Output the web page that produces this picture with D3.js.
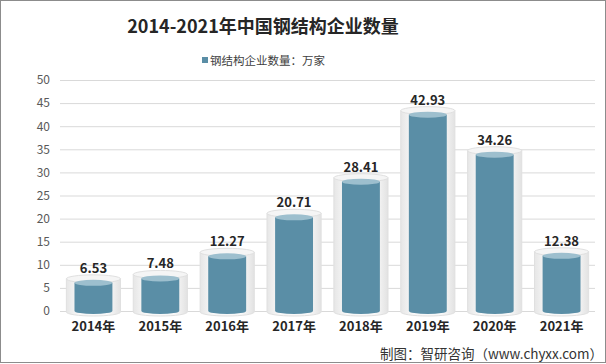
<!DOCTYPE html>
<html><head><meta charset="utf-8">
<script src="https://cdn.jsdelivr.net/npm/d3@7"></script>
<style>body{margin:0;background:#fff}svg{display:block}</style>
</head><body>
<script>
const categories = ["2014年","2015年","2016年","2017年","2018年","2019年","2020年","2021年"];
const values = [6.53, 7.48, 12.27, 20.71, 28.41, 42.93, 34.26, 12.38];
const yTicks = [0,5,10,15,20,25,30,35,40,45,50];
const title = "2014-2021年中国钢结构企业数量";
const legendLabel = "钢结构企业数量：万家";
const source = "制图：智研咨询（www.chyxx.com）";

const W = 606, H = 364;
const font = "'Noto Sans CJK SC','Noto Sans',sans-serif";
const svg = d3.select("body").append("svg").attr("width", W).attr("height", H);

const defs = svg.append("defs");
const g1 = defs.append("linearGradient").attr("id","glass").attr("x1","0").attr("x2","1").attr("y1","0").attr("y2","0");
g1.append("stop").attr("offset","0").attr("stop-color","#e6e6e6");
g1.append("stop").attr("offset","0.22").attr("stop-color","#f8f8f8");
g1.append("stop").attr("offset","0.78").attr("stop-color","#f8f8f8");
g1.append("stop").attr("offset","1").attr("stop-color","#e2e2e2");

svg.append("rect").attr("x",0.5).attr("y",0.5).attr("width",W-1).attr("height",H-2)
  .attr("fill","#fff").attr("stroke","#8c8c8c");

const x = d3.scaleBand().domain(categories).range([60, 595]).paddingInner(0.19).paddingOuter(0.095);
const y = d3.scaleLinear().domain([0, 50]).range([311, 80]);

// grid
svg.append("g").selectAll("line").data(yTicks).join("line")
  .attr("x1", 60).attr("x2", 595).attr("y1", d => y(d)+0.5).attr("y2", d => y(d)+0.5)
  .attr("stroke", "#d9d9d9");

// y axis
const yAxis = d3.axisLeft(y).tickValues(yTicks).tickSize(0).tickPadding(10);
const ya = svg.append("g").attr("transform","translate(60,0)").call(yAxis);
ya.select(".domain").remove();
ya.selectAll("text").attr("font-family", font).attr("font-size", 12).attr("fill", "#595959");

// x axis
const xAxis = d3.axisBottom(x).tickSize(0).tickPadding(11);
const xa = svg.append("g").attr("transform","translate(0,311)").call(xAxis);
xa.select(".domain").remove();
xa.selectAll("text").attr("font-family", font).attr("font-size", 13).attr("font-weight","bold").attr("fill","#262626");

const ry = 4;
const bars = svg.append("g").selectAll("g").data(categories).join("g");
// outer glass cylinder
bars.append("path").attr("d", (c,i) => {
  const bx = x(c), bw = x.bandwidth(), t = y(values[i]) - 2, b = y(0) + 1, rx = bw/2;
  return `M${bx},${t} L${bx},${b} A${rx},${ry} 0 0 0 ${bx+bw},${b} L${bx+bw},${t} Z`;
}).attr("fill","url(#glass)").attr("stroke","#e0e0e0");
bars.append("ellipse").attr("cx", c => x(c)+x.bandwidth()/2).attr("cy",(c,i)=>y(values[i])-2)
  .attr("rx", x.bandwidth()/2).attr("ry", ry).attr("fill","#f5f5f5").attr("stroke","#e0e0e0");
// inner bar
const iw = x.bandwidth()*0.7;
bars.append("path").attr("d", (c,i) => {
  const bx = x(c)+(x.bandwidth()-iw)/2, t = y(values[i]) + 2, b = y(0), rx = iw/2;
  return `M${bx},${t} L${bx},${b} A${rx},${ry-1} 0 0 0 ${bx+iw},${b} L${bx+iw},${t} Z`;
}).attr("fill","#5a8ea6");
bars.append("ellipse").attr("cx", c => x(c)+x.bandwidth()/2).attr("cy",(c,i)=>y(values[i])+2)
  .attr("rx", iw/2).attr("ry", ry-1).attr("fill","#9dbfce");

// value labels
bars.append("text").attr("x", c => x(c)+x.bandwidth()/2).attr("y",(c,i)=>y(values[i])-8)
  .attr("text-anchor","middle").attr("font-family",font).attr("font-size",13).attr("font-weight","bold")
  .attr("fill","#262626").text((c,i)=>values[i].toFixed(2));

// title
svg.append("text").attr("x", 263).attr("y", 33).attr("text-anchor","middle")
  .attr("font-family",font).attr("font-size",18).attr("font-weight","bold").attr("fill","#262626").text(title);

// legend
svg.append("rect").attr("x",202).attr("y",57).attr("width",6).attr("height",6).attr("fill","#5a8ea6");
svg.append("text").attr("x",210).attr("y",65).attr("font-family",font).attr("font-size",11.5)
  .attr("fill","#404040").text(legendLabel);

// source
svg.append("text").attr("x",603).attr("y",359).attr("text-anchor","end").attr("font-family",font)
  .attr("font-size",13.5).attr("fill","#333").text(source);
</script>
</body></html>
